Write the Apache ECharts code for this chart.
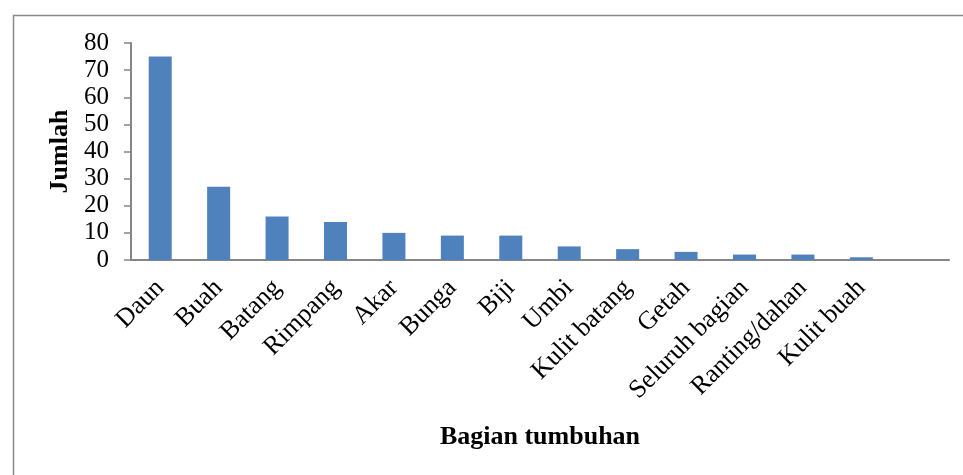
<!DOCTYPE html>
<html>
<head>
<meta charset="utf-8">
<script src="https://cdn.jsdelivr.net/npm/echarts@6/dist/echarts.min.js"></script>
<style>
html,body{margin:0;padding:0;background:#fff;}
#chart{width:963px;height:475px;}
</style>
</head>
<body>
<div id="chart"></div>
<script>
const categories = ['Daun','Buah','Batang','Rimpang','Akar','Bunga','Biji','Umbi','Kulit batang','Getah','Seluruh bagian','Ranting/dahan','Kulit buah',''];
const values = [75,27,16,14,10,9,9,5,4,3,2,2,1,null];
const yTicks = {min:0, max:80, interval:10};

const chart = echarts.init(document.getElementById('chart'), null, {renderer:'canvas'});
const font = 'Liberation Serif';
chart.setOption({
  animation:false,
  backgroundColor:'#fff',
  graphic:[{
    type:'rect', left:11, top:13, silent:true,
    shape:{x:0,y:0,width:1000,height:1000},
    style:{fill:'none', stroke:'#8a8a8a', lineWidth:1.5}
  }],
  grid:{left:131, right:14, top:43, bottom:215, containLabel:false},
  xAxis:{
    type:'category',
    data:categories,
    boundaryGap:true,
    name:'Bagian tumbuhan',
    nameLocation:'middle',
    nameGap:164,
    nameTextStyle:{fontFamily:font, fontSize:26, fontWeight:'bold', color:'#000'},
    axisLine:{lineStyle:{color:'#868686', width:2}},
    axisTick:{show:false},
    axisLabel:{rotate:45, interval:0, margin:24, verticalAlign:'middle', align:'right',
      fontFamily:font, fontSize:26, color:'#000'},
    splitLine:{show:false}
  },
  yAxis:{
    type:'value',
    min:yTicks.min, max:yTicks.max, interval:yTicks.interval,
    name:'Jumlah',
    nameLocation:'middle',
    nameGap:58,
    nameTextStyle:{fontFamily:font, fontSize:26, fontWeight:'bold', color:'#000'},
    axisLine:{show:true, lineStyle:{color:'#868686', width:2}},
    axisTick:{show:true, length:7, lineStyle:{color:'#868686', width:1.5}},
    axisLabel:{margin:22, fontFamily:font, fontSize:25, color:'#000'},
    splitLine:{show:false}
  },
  series:[{
    type:'bar',
    data:values,
    barWidth:23,
    itemStyle:{color:'#4F81BD'}
  }]
});
</script>
</body>
</html>
